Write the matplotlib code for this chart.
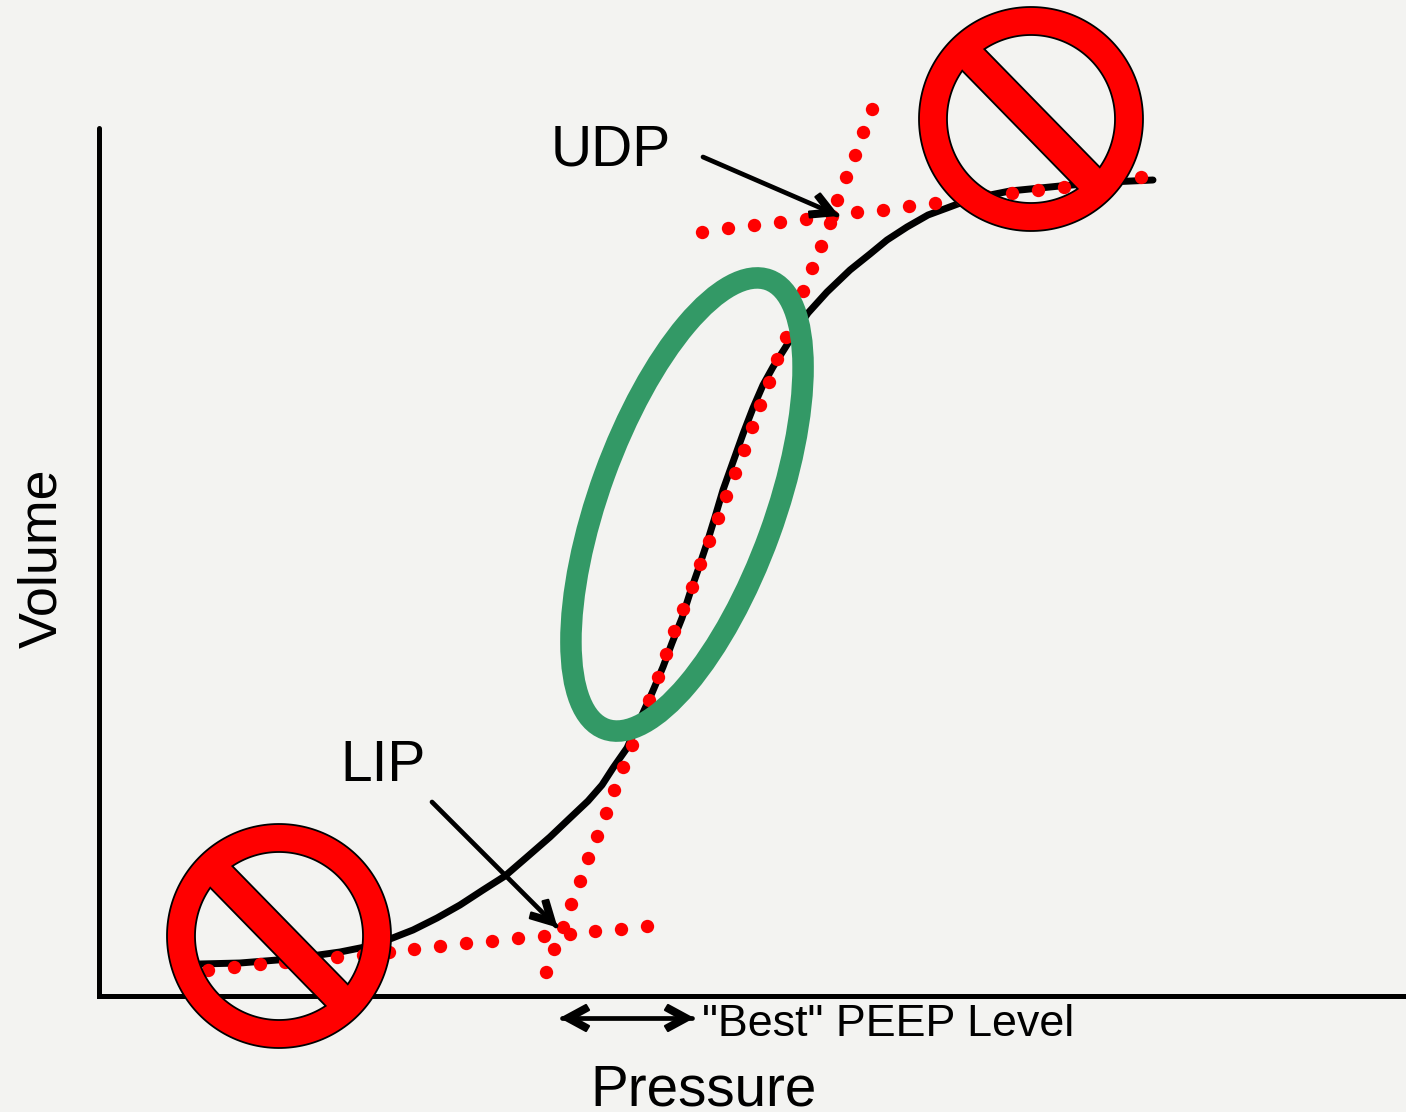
import numpy as np
import matplotlib
matplotlib.use("Agg")
import matplotlib.pyplot as plt
from matplotlib.patches import Ellipse, PathPatch, Polygon
from matplotlib.path import Path

# --- Datos (coordenadas en pixeles) ---
curve_x = [200, 240, 290, 340, 365, 390, 413, 437, 460, 483, 505, 527, 550, 570, 588, 602, 613, 627,
           652, 663, 672, 682, 690, 698, 707, 715, 723, 733, 743, 753, 763, 773, 785, 795, 808,
           827, 850, 870, 887, 907, 928, 947, 963, 985, 1010, 1060, 1110, 1153]
curve_y = [964, 963, 959, 952, 947, 939, 930, 918, 905, 890, 876, 857, 837, 818, 801, 785, 768, 748,
           693, 667, 643, 618, 593, 570, 543, 517, 490, 462, 434, 408, 385, 367, 348, 332, 313,
           292, 270, 254, 240, 227, 215, 208, 202, 196, 191, 186, 182, 180]

low_dots_x = [208, 234, 260, 285, 311, 337, 363, 389, 414, 440, 466, 492, 518, 544, 570, 595, 621, 647]
low_dots_y = [970, 967, 964, 962, 960, 957, 955, 952, 949, 946, 943, 941, 938, 936, 934, 931, 929, 926]

steep_dots_x = [546, 554, 563, 571, 580, 588, 597, 606, 614, 623, 632, 640, 649, 658, 666, 674, 683, 692, 700,
                709, 718, 726, 735, 744, 752, 760, 769, 777, 786, 795, 803, 812, 821, 830, 837, 846, 855, 863, 872]
steep_dots_y = [972, 949, 927, 904, 881, 858, 836, 813, 790, 767, 745, 722, 700, 677, 654, 631, 609, 587, 564,
                541, 518, 496, 473, 450, 427, 405, 382, 359, 337, 314, 291, 268, 246, 223, 200, 177, 155, 132, 109]

up_dots_x = [702, 728, 754, 780, 806, 832, 857, 883, 909, 935, 961, 986, 1012, 1038, 1064, 1090, 1116, 1141]
up_dots_y = [232, 228, 225, 222, 219, 216, 212, 210, 206, 203, 199, 196, 193, 190, 187, 184, 181, 177]

axis_x = [99, 99, 1406]
axis_y = [128, 996, 996]

no_sign_centers = [(279, 936), (1031, 119)]
R_OUT = 112
R_IN = 84
BAR_HALF = 14.5

udp_arrow = ((703, 157), (837, 215))
lip_arrow = ((432, 802), (556, 926))
peep_arrow = ((562, 1018), (692, 1018))

# forma de la punta: (atras de la punta, a un lado del eje)
head_back = [0, 24, 27, 16, 16, 27, 24]
head_side = [0, 13, 8, 2, -2, -8, -13]

BG = "#F3F3F1"
GREEN = "#339966"
RED = "#FF0000"

plt.rcParams["font.family"] = ["Liberation Sans", "DejaVu Sans"]


def no_sign_path(cx, cy):
    # circulo exterior mas dos huecos circulares cortados por la barra diagonal
    t = np.linspace(0, 2 * np.pi, 200)
    verts = [np.column_stack([cx + R_OUT * np.cos(t), cy + R_OUT * np.sin(t)])]
    codes = [[Path.MOVETO] + [Path.LINETO] * 198 + [Path.CLOSEPOLY]]
    half = np.arcsin(BAR_HALF / R_IN)
    for a0, a1 in [(np.pi / 4 - half, np.pi / 4 - np.pi + half),
                   (np.pi / 4 + np.pi - half, np.pi / 4 + half)]:
        s = np.linspace(a0, a1, 120)
        verts.append(np.column_stack([cx + R_IN * np.cos(s), cy + R_IN * np.sin(s)]))
        codes.append([Path.MOVETO] + [Path.LINETO] * 118 + [Path.CLOSEPOLY])
    return Path(np.vstack(verts), np.concatenate(codes))


def draw_head(ax, start, tip):
    # punta abierta en forma de V, con los brazos redondeados
    tip = np.array(tip, dtype=float)
    u = tip - np.array(start, dtype=float)
    u = u / np.hypot(*u)
    v = np.array([-u[1], u[0]])
    pts = [tip - b * u + s * v for b, s in zip(head_back, head_side)]
    ax.add_patch(Polygon(pts, closed=True, facecolor="black", edgecolor="black", lw=1.6,
                         joinstyle="round", zorder=5))


def draw_arrow(ax, start, tip, both=False):
    ax.plot([start[0], tip[0]], [start[1], tip[1]], color="black", lw=3.4,
            solid_capstyle="round", zorder=5)
    draw_head(ax, start, tip)
    if both:
        draw_head(ax, tip, start)


fig = plt.figure(figsize=(14.06, 11.12), dpi=100, facecolor=BG)
ax = fig.add_axes([0, 0, 1, 1])
ax.set_xlim(0, 1406)
ax.set_ylim(1112, 0)
ax.axis("off")

ax.plot(axis_x, axis_y, color="black", lw=3.6, solid_joinstyle="miter", solid_capstyle="round", zorder=1)
ax.plot(curve_x, curve_y, color="black", lw=5, solid_joinstyle="round", solid_capstyle="round", zorder=2)

for xs, ys in [(low_dots_x, low_dots_y), (steep_dots_x, steep_dots_y), (up_dots_x, up_dots_y)]:
    ax.plot(xs, ys, ls="none", marker="o", ms=9.6, mfc=RED, mec="none", zorder=3)

# Elipse verde, por encima de la curva y de los puntos
ax.add_patch(Ellipse((687, 504.5), 2 * 239, 2 * 87.7, angle=-70, fill=False,
                     edgecolor=GREEN, lw=15.5, zorder=4))

# Senales de prohibido
for cx, cy in no_sign_centers:
    ax.add_patch(PathPatch(no_sign_path(cx, cy), facecolor=RED, edgecolor="black", lw=1.3, zorder=6))

draw_arrow(ax, *udp_arrow)
draw_arrow(ax, *lip_arrow)
draw_arrow(ax, *peep_arrow, both=True)

ax.text(551, 150, "UDP", fontsize=41, ha="left", va="center", color="black")
ax.text(340, 766, "LIP", fontsize=41, ha="left", va="center", color="black")
ax.text(42, 558.5, "Volume", fontsize=38.8, rotation=90, ha="center", va="center", color="black")
ax.text(590, 1090, "Pressure", fontsize=40.8, ha="left", va="center", color="black")
ax.text(702, 1024, '"Best" PEEP Level', fontsize=32.3, ha="left", va="center", color="black")

fig.savefig("out.png", dpi=100, facecolor=BG)
